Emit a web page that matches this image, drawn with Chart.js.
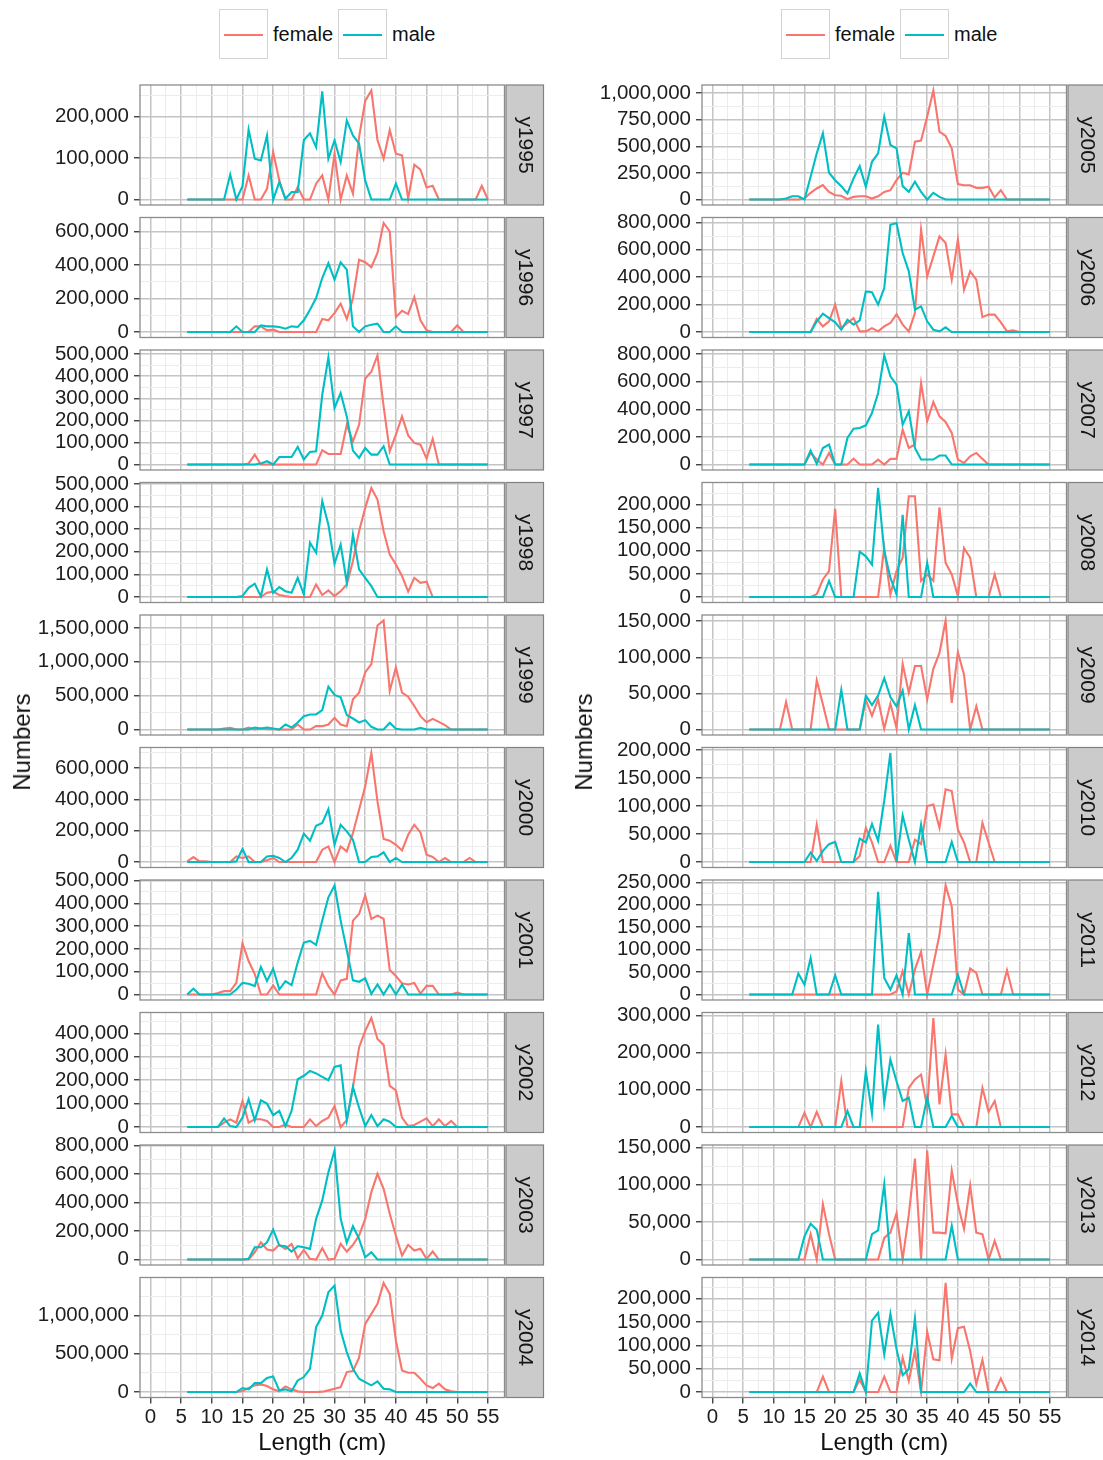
<!DOCTYPE html>
<html>
<head>
<meta charset="utf-8">
<title>Numbers at length by year</title>
<script src="https://cdn.jsdelivr.net/npm/chart.js@4.4.1/dist/chart.umd.min.js"></script>
<style>
  html, body { margin: 0; padding: 0; background: #fff; overflow: hidden; }
  body { width: 1103px; height: 1460px; position: relative;
         font-family: "Liberation Sans", Arial, Helvetica, sans-serif; }
  canvas { position: absolute; }
  .ytitle { position: absolute; font-size: 24px; color: #111; white-space: nowrap;
            transform: translate(-50%, -50%) rotate(-90deg); }
  .key { position: absolute; width: 49px; height: 50px; box-sizing: border-box;
         border: 1.5px solid #d4d4d4; background: #fff; }
  .key i { position: absolute; left: 4px; right: 4px; top: 24px; height: 2px; }
  .lab { position: absolute; font-size: 20px; line-height: 24px; color: #111; }
</style>
</head>
<body>
<script>
// Length classes (cm)
const lengths = [6,7,8,9,10,11,12,13,14,15,16,17,18,19,20,21,22,23,24,25,26,27,28,29,30,
                 31,32,33,34,35,36,37,38,39,40,41,42,43,44,45,46,47,48,49,50,51,52,53,54,55];

// Numbers at length (thousands), one array per sex and year, lengths 6..55 cm
const female1995 = [0,0,0,0,0,0,0,0,0,0, 58,0,0,26,114,46,0,0,30,0, 0,38,58,0,110,0,58,14,150,237, 262,143,98,167,110,106,2,84,72,29, 33,0,0,0,0,0,0,0,33,0];
const male1995   = [0,0,0,0,0,0,0,60,0,32, 168,98,94,154,0,42,2,18,18,143, 159,126,260,98,142,90,190,154,134,46, 0,0,0,0,38,0,0,0,0,0, 0,0,0,0,0,0,0,0,0,0];
const female1996 = [0,0,0,0,0,0,0,0,0,0, 0,34,34,10,14,0,0,0,0,0, 0,0,78,70,113,169,78,200,431,416, 386,471,650,600,89,127,107,209,70,10, 0,0,0,0,40,0,0,0,0,0];
const male1996   = [0,0,0,0,0,0,0,0,34,0, 0,0,40,34,34,30,20,34,30,70, 133,203,322,411,312,416,372,34,0,34, 44,50,0,0,34,0,0,0,0,0, 0,0,0,0,0,0,0,0,0,0];
const female1997 = [0,0,0,0,0,0,0,0,0,0, 5,45,0,0,0,0,0,0,0,0, 0,0,65,48,48,48,180,105,180,390, 420,494,263,60,135,218,132,98,90,27, 116,0,0,0,0,0,0,0,0,0];
const male1997   = [0,0,0,0,0,0,0,0,0,0, 0,0,5,15,0,34,34,34,80,23, 57,60,316,485,256,324,218,63,30,75, 45,45,83,0,0,0,0,0,0,0, 0,0,0,0,0,0,0,0,0,0];
const female1998 = [0,0,0,0,0,0,0,0,0,0, 0,0,0,19,24,9,4,0,0,0, 0,56,9,29,4,26,56,159,291,394, 482,431,291,188,144,93,24,85,63,68, 0,0,0,0,0,0,0,0,0,0];
const male1998   = [0,0,0,0,0,0,0,0,0,4, 41,59,4,122,19,44,26,19,85,12, 240,196,424,320,147,232,63,276,122,85, 48,0,0,0,0,0,0,0,0,0, 0,0,0,0,0,0,0,0,0,0];
const female1999 = [0,0,0,0,0,0,15,25,0,0, 30,0,15,5,5,0,0,0,74,0, 0,50,50,74,173,74,50,446,545,842, 965,1535,1610,570,916,545,485,347,198,109, 158,114,65,0,0,0,0,0,0,0];
const male1999   = [0,0,0,0,0,0,0,0,0,0, 0,30,15,30,15,0,74,30,104,198, 223,223,287,634,510,475,213,163,104,139, 40,0,0,99,10,0,0,0,25,0, 0,0,0,0,0,0,0,0,0,0];
const female2000 = [4,32,4,4,0,0,0,0,36,26, 36,0,0,11,26,0,0,0,0,0, 0,0,79,100,0,100,68,185,334,483, 696,387,147,136,110,74,174,238,189,47, 32,0,26,0,0,0,26,0,0,0];
const male2000   = [0,0,0,0,0,0,0,0,4,83, 0,0,0,36,40,26,0,26,79,181, 136,232,249,338,110,238,196,143,0,0, 32,36,62,0,26,0,0,0,0,0, 0,0,0,0,0,0,0,0,0,0];
const female2001 = [0,0,0,0,0,7,15,15,51,224, 147,90,0,0,40,0,0,0,0,0, 0,0,93,37,0,62,69,324,353,434, 331,346,332,107,81,49,44,51,4,38, 38,0,0,0,9,0,0,0,0,0];
const male2001   = [0,26,0,0,0,0,0,0,22,51, 47,37,121,59,113,22,59,41,140,228, 235,218,324,426,478,324,194,62,56,71, 3,44,0,44,0,44,0,0,0,0, 0,0,0,0,0,0,0,0,0,0];
const female2002 = [0,0,0,0,0,0,19,33,19,111, 19,33,33,26,0,0,10,0,0,0, 33,4,26,40,90,0,29,169,340,411, 466,376,351,176,157,40,4,9,23,37, 4,33,4,26,0,0,0,0,0,0];
const male2002   = [0,0,0,0,0,0,37,4,0,40, 119,29,114,100,51,69,4,69,204,219, 240,229,214,200,257,264,29,171,83,4, 51,4,33,23,0,0,0,0,0,0, 0,0,0,0,0,0,0,0,0,0];
const female2003 = [0,0,0,0,0,0,0,0,0,0, 0,51,121,70,63,103,75,110,9,68, 5,0,80,0,5,110,56,103,168,285, 472,600,495,320,168,28,103,63,75,5, 56,0,0,0,0,0,0,0,0,0];
const male2003   = [0,0,0,0,0,0,0,0,0,0, 5,86,86,121,210,98,93,56,93,86, 75,285,414,612,764,285,117,233,145,16, 51,0,0,0,0,0,0,0,0,0, 0,0,0,0,0,0,0,0,0,0];
const female2004 = [0,0,0,0,0,0,0,0,0,13, 52,87,100,78,35,9,74,35,9,0, 0,0,5,22,43,65,261,274,448,891, 1022,1152,1426,1283,674,283,252,252,174,87, 52,109,35,9,0,0,0,0,0,0];
const male2004   = [0,0,0,0,0,0,0,0,0,52, 35,117,117,183,204,22,35,9,152,196, 304,848,1000,1304,1391,804,522,304,174,130, 87,139,43,35,0,0,0,0,0,0, 0,0,0,0,0,0,0,0,0,0];
const female2005 = [0,0,0,0,0,0,0,0,0,9, 63,104,135,72,41,35,3,25,31,31, 9,31,72,88,182,252,236,544,554,780, 1025,638,597,481,145,135,135,110,110,120, 19,88,0,0,0,0,0,0,0,0];
const male2005   = [0,0,0,0,0,0,9,31,31,0, 214,434,623,252,182,126,57,198,314,120, 355,434,780,513,481,126,72,167,72,0, 63,25,0,0,0,0,0,0,0,0, 0,0,0,0,0,0,0,0,0,0];
const female2006 = [0,0,0,0,0,0,0,0,0,0, 0,95,41,78,200,29,66,102,5,5, 29,5,41,66,131,54,5,139,747,406, 552,698,650,382,674,309,443,382,109,127, 127,71,5,12,0,0,0,0,0,0];
const male2006   = [0,0,0,0,0,0,0,0,0,0, 0,78,134,102,71,17,90,54,85,297, 290,200,321,783,796,577,443,163,187,78, 17,5,34,0,0,0,0,0,0,0, 0,0,0,0,0,0,0,0,0,0];
const female2007 = [0,0,0,0,0,0,0,0,0,0, 84,36,0,84,0,0,0,43,0,0, 0,36,0,41,41,253,120,145,590,313, 453,349,308,229,36,12,60,84,41,0, 0,0,0,0,0,0,0,0,0,0];
const male2007   = [0,0,0,0,0,0,0,0,0,0, 101,5,120,145,0,0,193,260,265,284, 373,518,790,639,578,289,386,120,36,36, 36,65,65,0,0,0,0,0,0,0, 0,0,0,0,0,0,0,0,0,0];
const female2008 = [0,0,0,0,0,0,0,0,0,0, 0,6,38,56,191,0,0,0,0,0, 0,0,106,6,56,85,218,218,35,49, 35,194,74,49,2,106,85,0,0,0, 49,0,0,0,0,0,0,0,0,0];
const male2008   = [0,0,0,0,0,0,0,0,0,0, 0,0,0,35,0,0,0,0,98,88, 70,236,99,42,6,178,0,0,0,74, 0,0,0,0,0,0,0,0,0,0, 0,0,0,0,0,0,0,0,0,0];
const female2009 = [0,0,0,0,0,0,38,0,0,0, 0,68,35,0,0,0,0,0,0,41, 19,42,1,36,2,91,51,88,88,42, 84,106,151,37,107,76,0,32,0,0, 0,0,0,0,0,0,0,0,0,0];
const male2009   = [0,0,0,0,0,0,0,0,0,0, 0,0,0,0,0,55,0,0,0,47, 34,47,71,45,32,54,0,34,0,0, 0,0,0,0,0,0,0,0,0,0, 0,0,0,0,0,0,0,0,0,0];
const female2010 = [0,0,0,0,0,0,0,0,0,0, 0,67,0,0,0,0,0,0,11,61, 35,0,0,29,0,0,0,40,32,100, 103,61,130,127,58,35,0,0,70,35, 0,0,0,0,0,0,0,0,0,0];
const male2010   = [0,0,0,0,0,0,0,0,0,0, 17,2,20,32,36,0,0,0,42,35, 68,38,110,195,0,83,40,0,67,0, 0,0,0,36,0,0,0,0,0,0, 0,0,0,0,0,0,0,0,0,0];
const female2011 = [0,0,0,0,0,0,0,0,0,0, 0,0,0,0,0,0,0,0,0,0, 0,0,0,0,7,52,0,56,95,0, 67,133,243,196,11,0,58,48,0,0, 0,0,54,0,0,0,0,0,0,0];
const male2011   = [0,0,0,0,0,0,0,0,47,22, 81,0,0,0,43,0,0,0,0,0, 0,229,37,11,43,0,137,0,0,0, 0,0,0,0,44,0,0,0,0,0, 0,0,0,0,0,0,0,0,0,0];
const female2012 = [0,0,0,0,0,0,0,0,0,38, 0,41,0,0,0,123,0,0,0,0, 0,0,0,0,0,0,105,128,141,52, 293,61,195,34,34,0,0,0,105,41, 70,0,0,0,0,0,0,0,0,0];
const male2012   = [0,0,0,0,0,0,0,0,0,0, 0,0,0,0,0,0,43,0,0,150, 36,275,65,181,123,70,79,0,0,79, 0,0,0,30,0,0,0,0,0,0, 0,0,0,0,0,0,0,0,0,0];
const female2013 = [0,0,0,0,0,0,0,0,0,0, 34,0,74,34,0,0,0,0,0,0, 0,0,29,36,62,0,60,135,0,146, 36,36,35,119,74,41,99,36,34,0, 25,0,0,0,0,0,0,0,0,0];
const male2013   = [0,0,0,0,0,0,0,0,0,31, 48,40,0,0,0,0,0,0,0,0, 34,39,101,0,0,0,0,0,0,0, 0,0,0,45,0,0,0,0,0,0, 0,0,0,0,0,0,0,0,0,0];
const female2014 = [0,0,0,0,0,0,0,0,0,0, 0,0,33,0,0,0,0,0,27,0, 0,0,33,0,0,74,24,88,0,129, 70,68,234,72,137,140,88,17,69,0, 0,29,0,0,0,0,0,0,0,0];
const male2014   = [0,0,0,0,0,0,0,0,0,0, 0,0,0,0,0,0,0,0,40,0, 153,170,81,168,92,36,49,158,0,0, 0,0,0,0,0,0,18,0,0,0, 0,0,0,0,0,0,0,0,0,0];

// Facet labels and major y tick spacing (thousands) for each column
const leftYears  = ['y1995','y1996','y1997','y1998','y1999','y2000','y2001','y2002','y2003','y2004'];
const rightYears = ['y2005','y2006','y2007','y2008','y2009','y2010','y2011','y2012','y2013','y2014'];
const leftSteps  = [100, 200, 100, 100, 500, 200, 100, 100, 200, 500];
const rightSteps = [250, 200, 200, 50, 50, 50, 50, 100, 50, 50];
const xMajorTicks = [0, 5, 10, 15, 20, 25, 30, 35, 40, 45, 50, 55];

const seriesNames = ['female', 'male'];
const seriesColors = ['#F8766D', '#00BFC4'];

const UNIT = 1000;
const panels = {
  y1995: [female1995, male1995], y1996: [female1996, male1996], y1997: [female1997, male1997],
  y1998: [female1998, male1998], y1999: [female1999, male1999], y2000: [female2000, male2000],
  y2001: [female2001, male2001], y2002: [female2002, male2002], y2003: [female2003, male2003],
  y2004: [female2004, male2004], y2005: [female2005, male2005], y2006: [female2006, male2006],
  y2007: [female2007, male2007], y2008: [female2008, male2008], y2009: [female2009, male2009],
  y2010: [female2010, male2010], y2011: [female2011, male2011], y2012: [female2012, male2012],
  y2013: [female2013, male2013], y2014: [female2014, male2014]
};

// Page layout
const FONT = '"Liberation Sans", Arial, Helvetica, sans-serif';
const PANEL_TOP0 = 85, PANEL_PITCH = 132.5, PANEL_H = 120;
const X_MIN = -1.7, X_MAX = 57.7;
const MAJOR_GRID = '#c4c4c4', MINOR_GRID = '#ececec';
const columns = [
  { canvasLeft: 0,   canvasWidth: 552, plotLeft: 140, plotRight: 504.5, years: leftYears,  steps: leftSteps,  legendLeft: 219, titleX: 22 },
  { canvasLeft: 560, canvasWidth: 543, plotLeft: 702, plotRight: 1066.5, years: rightYears, steps: rightSteps, legendLeft: 781, titleX: 584 }
];

// Panel frame and the grey facet strip on the right
const panelDecor = {
  id: 'panelDecor',
  afterDraw(chart, args, opts) {
    const { ctx, chartArea: a } = chart;
    ctx.save();
    ctx.strokeStyle = '#8c8c8c';
    ctx.lineWidth = 1.3;
    ctx.strokeRect(a.left, a.top, a.right - a.left, a.bottom - a.top);
    const sx = a.right + 1.5, sw = 37.5, sh = a.bottom - a.top;
    ctx.fillStyle = '#cbcbcb';
    ctx.fillRect(sx, a.top, sw, sh);
    ctx.strokeStyle = '#808080';
    ctx.lineWidth = 1.2;
    ctx.strokeRect(sx, a.top, sw, sh);
    ctx.translate(sx + sw / 2, a.top + sh / 2);
    ctx.rotate(Math.PI / 2);
    ctx.fillStyle = '#151515';
    ctx.font = '21px ' + FONT;
    ctx.textAlign = 'center';
    ctx.textBaseline = 'middle';
    ctx.fillText(opts.label, 0, 0);
    ctx.restore();
  }
};

function isMultiple(v, step) {
  const r = v / step;
  return Math.abs(r - Math.round(r)) < 1e-6;
}

function buildPanel(col, i) {
  const name = col.years[i];
  const values = panels[name].map(arr => arr.map(v => v * UNIT));
  const step = col.steps[i] * UNIT;
  const peak = Math.max(...values[0], ...values[1]);
  const yMin = -0.05 * peak, yMax = 1.05 * peak;
  const yTicks = [];
  for (let v = 0; v <= yMax; v += step / 2) yTicks.push(v);
  const xTicks = [];
  for (let v = 0; v <= 55; v += 2.5) xTicks.push(v);

  const last = i === 9;
  const top = PANEL_TOP0 + i * PANEL_PITCH;
  const bottom = top + PANEL_H;
  const cTop = Math.floor(top) - 22;
  const cBottom = last ? 1460 : Math.ceil(bottom) + 22;

  const canvas = document.createElement('canvas');
  canvas.width = col.canvasWidth;
  canvas.height = cBottom - cTop;
  canvas.style.left = col.canvasLeft + 'px';
  canvas.style.top = cTop + 'px';
  canvas.style.width = col.canvasWidth + 'px';
  canvas.style.height = (cBottom - cTop) + 'px';
  document.body.appendChild(canvas);

  const yMajor = c => c.tick && isMultiple(c.tick.value, step);
  const xMajor = c => c.tick && xMajorTicks.includes(c.tick.value);

  new Chart(canvas, {
    type: 'line',
    data: {
      datasets: values.map((vals, k) => ({
        label: seriesNames[k],
        data: lengths.map((len, j) => ({ x: len, y: vals[j] })),
        borderColor: seriesColors[k],
        borderWidth: 2.1,
        pointRadius: 0,
        tension: 0,
        fill: false,
        order: k === 1 ? 0 : 1
      }))
    },
    options: {
      responsive: false,
      animation: false,
      devicePixelRatio: 1,
      events: [],
      layout: { padding: { top: top - cTop, bottom: last ? 0 : cBottom - bottom, left: 0,
                           right: col.canvasLeft + col.canvasWidth - col.plotRight } },
      plugins: { legend: { display: false }, tooltip: { enabled: false }, panelDecor: { label: name } },
      scales: {
        x: {
          type: 'linear', min: X_MIN, max: X_MAX,
          afterBuildTicks: s => { s.ticks = xTicks.map(v => ({ value: v })); },
          afterFit: s => { s.height = last ? 1460 - bottom : 0; },
          border: { display: false },
          grid: {
            color: c => xMajor(c) ? MAJOR_GRID : MINOR_GRID,
            lineWidth: c => xMajor(c) ? 1.5 : 1,
            drawTicks: last,
            tickLength: 6,
            tickWidth: 1.3,
            tickColor: c => xMajor(c) ? '#333' : 'rgba(0,0,0,0)'
          },
          ticks: {
            display: last, autoSkip: false, maxRotation: 0, minRotation: 0, padding: 2,
            color: '#1e1e1e', font: { family: FONT, size: 20.5 },
            callback: v => xMajorTicks.includes(v) ? String(v) : ''
          },
          title: { display: last, text: 'Length (cm)', color: '#111',
                   font: { family: FONT, size: 24 }, padding: { top: 0, bottom: 2 } }
        },
        y: {
          type: 'linear', min: yMin, max: yMax,
          afterBuildTicks: s => { s.ticks = yTicks.map(v => ({ value: v })); },
          afterFit: s => { s.width = col.plotLeft - col.canvasLeft; },
          border: { display: false },
          grid: {
            color: c => yMajor(c) ? MAJOR_GRID : MINOR_GRID,
            lineWidth: c => yMajor(c) ? 1.5 : 1,
            tickLength: 6,
            tickWidth: 1.3,
            tickColor: c => yMajor(c) ? '#333' : 'rgba(0,0,0,0)'
          },
          ticks: {
            autoSkip: false, padding: 5, color: '#1e1e1e', font: { family: FONT, size: 20.5 },
            callback: v => isMultiple(v, step) ? v.toLocaleString('en-US') : ''
          }
        }
      }
    },
    plugins: [panelDecor]
  });
}

function addText(cls, text, left, top) {
  const el = document.createElement('div');
  el.className = cls;
  el.textContent = text;
  el.style.left = left + 'px';
  el.style.top = top + 'px';
  document.body.appendChild(el);
  return el;
}

function addLegend(left) {
  const offsets = [0, 119];
  seriesNames.forEach((s, k) => {
    const key = document.createElement('div');
    key.className = 'key';
    key.style.left = (left + offsets[k]) + 'px';
    key.style.top = '9px';
    const line = document.createElement('i');
    line.style.background = seriesColors[k];
    key.appendChild(line);
    document.body.appendChild(key);
    addText('lab', s, left + offsets[k] + 54, 22);
  });
}

columns.forEach(col => {
  for (let i = 0; i < col.years.length; i++) buildPanel(col, i);
  addLegend(col.legendLeft);
  addText('ytitle', 'Numbers', col.titleX, 742);
});
</script>
</body>
</html>
